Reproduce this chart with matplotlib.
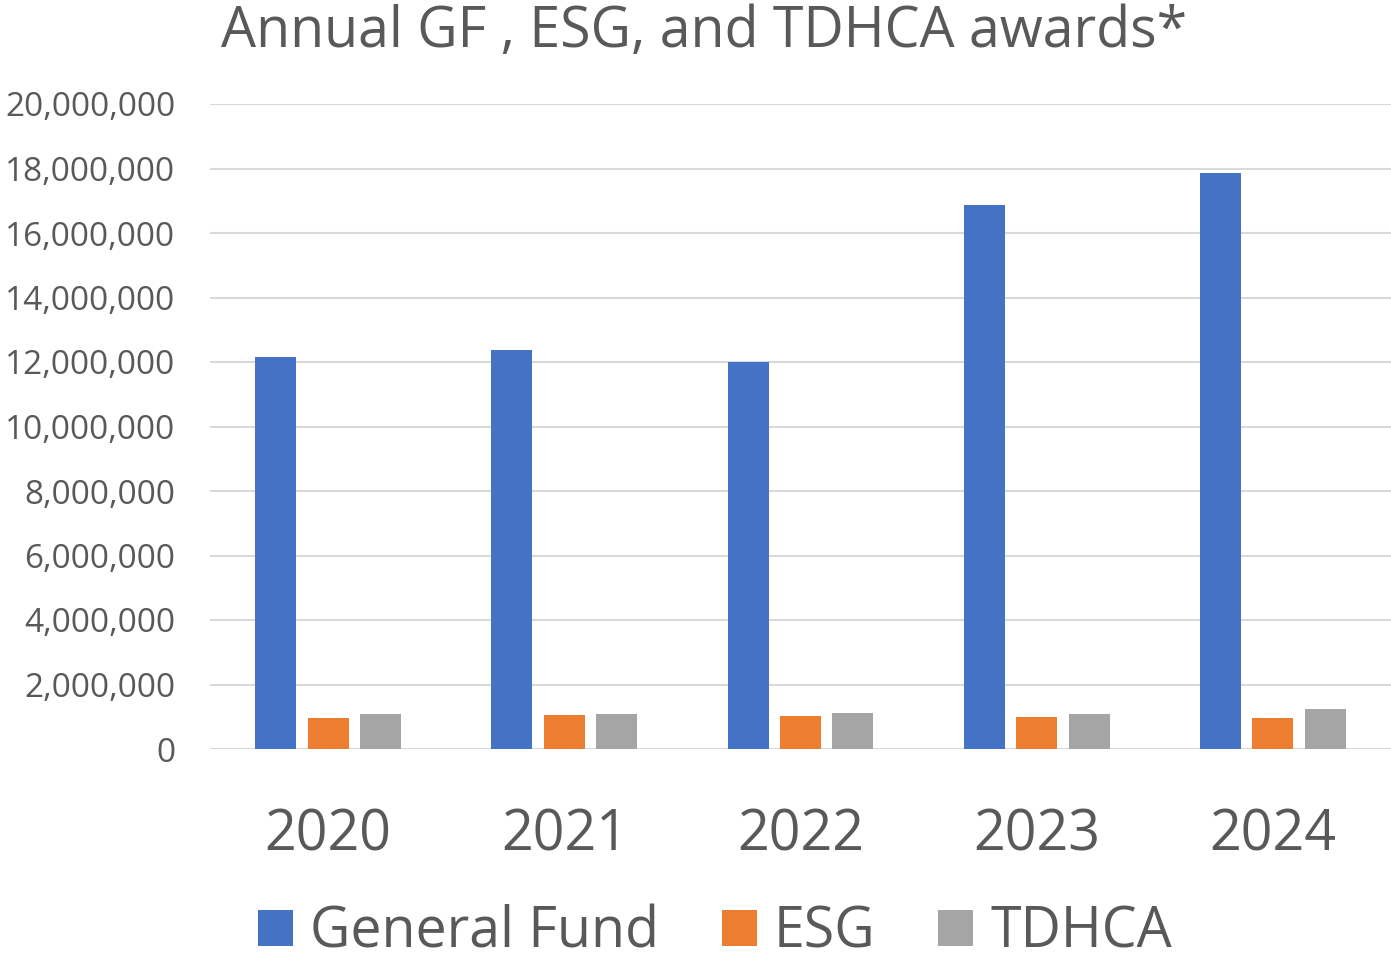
import numpy as np
import matplotlib
matplotlib.use("Agg")
from matplotlib import pyplot as plt
from matplotlib.ticker import FuncFormatter

years = ["2020", "2021", "2022", "2023", "2024"]
general_fund = [12140000, 12360000, 12000000, 16870000, 17860000]
esg = [960000, 1040000, 1020000, 1000000, 970000]
tdhca = [1100000, 1100000, 1130000, 1090000, 1250000]

series_names = ["General Fund", "ESG", "TDHCA"]
colors = ["#4472C4", "#ED7D31", "#A5A5A5"]
text_color = "#595959"
grid_color = "#D9D9D9"

plt.rcParams["font.family"] = ["Open Sans", "DejaVu Sans"]

fig = plt.figure(figsize=(13.91, 9.61), dpi=100)
ax = fig.add_axes([210 / 1391, 1 - 749 / 961, 1 - 210 / 1391, (749 - 104) / 961])

x = np.arange(len(years))
width = 0.174
step = 0.222
for i, (vals, name, col) in enumerate(zip([general_fund, esg, tdhca], series_names, colors)):
	ax.bar(x + (i - 1) * step, vals, width, color=col, label=name, zorder=3)

ax.set_xlim(-0.5, len(years) - 0.5)
ax.set_ylim(0, 20000000)
ax.set_yticks(np.arange(0, 20000001, 2000000))
ax.yaxis.set_major_formatter(FuncFormatter(lambda v, p: "{:,.0f}".format(v)))
ax.set_xticks(x)
ax.set_xticklabels(years)

ax.grid(axis="y", color=grid_color, linewidth=1.5, zorder=0)
for s in ["top", "right", "left", "bottom"]:
	ax.spines[s].set_visible(False)
ax.tick_params(axis="both", length=0)
ax.tick_params(axis="y", labelsize=24, labelcolor=text_color, pad=25)
ax.tick_params(axis="x", labelsize=40, labelcolor=text_color, pad=42)

fig.text(704 / 1391, 1 - 33 / 961, "Annual GF , ESG, and TDHCA awards*", ha="center", va="center",
	fontsize=40, color=text_color)

handles, labels = ax.get_legend_handles_labels()
fig.legend(handles, labels, loc="center", bbox_to_anchor=(715 / 1391, 1 - 933 / 961), ncol=3,
	frameon=False, fontsize=40, labelcolor=text_color, handlelength=0.63, handleheight=0.63,
	handletextpad=0.31, columnspacing=1.13, borderaxespad=0, borderpad=0)

fig.savefig("out.png", dpi=100)
